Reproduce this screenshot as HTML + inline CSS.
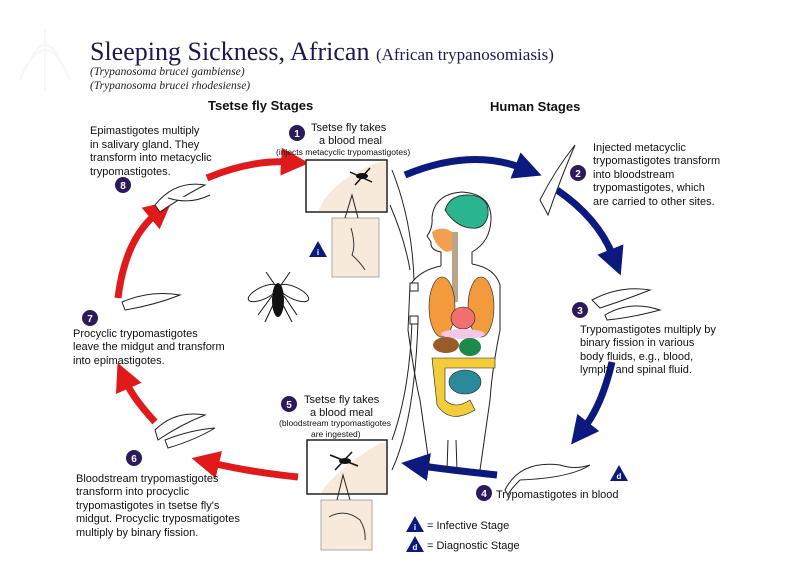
<!DOCTYPE html>
<html><head><meta charset="utf-8"><style>
html,body{margin:0;padding:0;background:#fff}
svg{display:block}
text{font-family:"Liberation Sans",sans-serif;fill:#111}
.s{font-size:11px}
.xs{font-size:8.5px}
.n{font-size:10px;font-weight:bold;fill:#fff}
</style></head><body>
<svg width="800" height="587" viewBox="0 0 800 587" xmlns="http://www.w3.org/2000/svg">
<defs>
<marker id="rh" markerWidth="4" markerHeight="4" refX="1" refY="2" orient="auto"><path d="M0,0 L4,2 L0,4 Z" fill="#e01a1a"/></marker>
<marker id="bh" markerWidth="4" markerHeight="4" refX="1" refY="2" orient="auto"><path d="M0,0 L4,2 L0,4 Z" fill="#0c1a80"/></marker>
</defs>
<!-- watermark -->
<g stroke="#f6f6f6" fill="none" stroke-width="2"><path d="M20,80 Q45,20 70,80 M30,60 Q45,30 60,60 M45,30 L45,90"/></g>
<!-- title -->
<text x="90" y="60" style="font-family:'Liberation Serif',serif;font-size:26px;fill:#1a1a50">Sleeping Sickness, African <tspan style="font-size:17px">(African trypanosomiasis)</tspan></text>
<text x="90" y="75" style="font-family:'Liberation Serif',serif;font-size:11.5px;font-style:italic;fill:#222">(Trypanosoma brucei gambiense)</text>
<text x="90" y="89" style="font-family:'Liberation Serif',serif;font-size:11.5px;font-style:italic;fill:#222">(Trypanosoma brucei rhodesiense)</text>
<text x="208" y="110" style="font-size:13px;font-weight:bold">Tsetse fly Stages</text>
<text x="490" y="111" style="font-size:13px;font-weight:bold">Human Stages</text>

<!-- red arrows -->
<g stroke="#e01a1a" stroke-width="7" fill="none">
<path d="M207,178 Q250,160 288,162" marker-end="url(#rh)"/>
<path d="M118,298 Q125,240 156,214" marker-end="url(#rh)"/>
<path d="M155,422 Q133,398 126,382" marker-end="url(#rh)"/>
<path d="M298,477 Q250,472 212,463" marker-end="url(#rh)"/>
</g>
<!-- blue arrows -->
<g stroke="#0c1a80" stroke-width="7" fill="none">
<path d="M405,175 Q470,148 522,168" marker-end="url(#bh)"/>
<path d="M557,190 Q598,218 613,256" marker-end="url(#bh)"/>
<path d="M612,362 Q602,405 584,428" marker-end="url(#bh)"/>
<path d="M497,475 Q450,470 422,466" marker-end="url(#bh)"/>
</g>

<!-- number circles -->
<g fill="#2c1a5c">
<circle cx="297" cy="133" r="8"/><circle cx="578" cy="173" r="8"/><circle cx="580" cy="310" r="8"/>
<circle cx="484" cy="493" r="8"/><circle cx="289" cy="404" r="8"/><circle cx="134" cy="458" r="8"/>
<circle cx="90" cy="318" r="8"/><circle cx="123" cy="185" r="8"/>
</g>
<g text-anchor="middle">
<text class="n" x="297" y="137">1</text><text class="n" x="578" y="177">2</text><text class="n" x="580" y="314">3</text>
<text class="n" x="484" y="497">4</text><text class="n" x="289" y="408">5</text><text class="n" x="134" y="462">6</text>
<text class="n" x="90" y="322">7</text><text class="n" x="123" y="189">8</text>
</g>

<!-- texts -->
<text class="s" x="90" y="134">Epimastigotes multiply</text>
<text class="s" x="90" y="148">in salivary gland. They</text>
<text class="s" x="90" y="161">transform into metacyclic</text>
<text class="s" x="90" y="175">trypomastigotes.</text>
<text class="s" x="311" y="131">Tsetse fly takes</text>
<text class="s" x="319" y="144">a blood meal</text>
<text class="xs" x="276" y="155">(injects metacyclic trypomastigotes)</text>
<text class="s" x="593" y="151">Injected metacyclic</text>
<text class="s" x="593" y="164">trypomastigotes transform</text>
<text class="s" x="593" y="178">into bloodstream</text>
<text class="s" x="593" y="191">trypomastigotes, which</text>
<text class="s" x="593" y="205">are carried to other sites.</text>
<text class="s" x="580" y="333">Trypomastigotes multiply by</text>
<text class="s" x="580" y="346">binary fission in various</text>
<text class="s" x="580" y="360">body fluids, e.g., blood,</text>
<text class="s" x="580" y="373">lymph, and spinal fluid.</text>
<text class="s" x="496" y="498">Trypomastigotes in blood</text>
<text class="s" x="304" y="403">Tsetse fly takes</text>
<text class="s" x="310" y="416">a blood meal</text>
<text class="xs" x="279" y="426">(bloodstream trypomastigotes</text>
<text class="xs" x="311" y="437">are ingested)</text>
<text class="s" x="73" y="337">Procyclic trypomastigotes</text>
<text class="s" x="73" y="350">leave the midgut and transform</text>
<text class="s" x="73" y="364">into epimastigotes.</text>
<text class="s" x="76" y="482">Bloodstream trypomastigotes</text>
<text class="s" x="76" y="495">transform into procyclic</text>
<text class="s" x="76" y="509">trypomastigotes in tsetse fly's</text>
<text class="s" x="76" y="522">midgut. Procyclic tryposmatigotes</text>
<text class="s" x="76" y="536">multiply by binary fission.</text>

<!-- legend -->
<g fill="#0c1a80">
<path d="M406,532 L415,516 L424,532 Z"/><path d="M406,552 L415,536 L424,552 Z"/>
<path d="M309,257 L318,241 L327,257 Z"/><path d="M610,481 L619,465 L628,481 Z"/>
</g>
<g font-weight="bold" text-anchor="middle">
<text x="415" y="530" style="fill:#fff;font-size:8px">i</text><text x="415" y="550" style="fill:#fff;font-size:8px">d</text>
<text x="318" y="255" style="fill:#fff;font-size:8px">i</text><text x="619" y="479" style="fill:#fff;font-size:8px">d</text>
</g>
<text class="s" x="427" y="529">= Infective Stage</text>
<text class="s" x="427" y="549">= Diagnostic Stage</text>

<!-- boxes -->
<rect x="332" y="218" width="47" height="59" fill="#f8eadb" stroke="#999" stroke-width="0.8"/>
<rect x="306" y="160" width="81" height="52" fill="#fff" stroke="#222" stroke-width="1.3"/>
<path d="M318,212 Q330,180 380,162 L386,162 L386,211 L318,211 Z" fill="#f8eadb"/>
<rect x="306" y="160" width="81" height="52" fill="none" stroke="#222" stroke-width="1.3"/>
<path d="M345,218 L352,195 L358,218" fill="none" stroke="#222"/>
<path d="M351,228 Q356,245 352,255 Q360,262 365,270" fill="none" stroke="#333"/>
<g stroke="#111" stroke-width="1.5"><line x1="350" y1="172" x2="372" y2="182"/><line x1="355" y1="185" x2="370" y2="168"/></g>
<ellipse cx="362" cy="176" rx="6" ry="3" fill="#111"/>

<rect x="321" y="500" width="51" height="50" fill="#f8eadb" stroke="#999" stroke-width="0.8"/>
<rect x="307" y="440" width="80" height="54" fill="#fff" stroke="#222" stroke-width="1.3"/>
<path d="M320,494 Q335,470 380,443 L386,443 L386,493 L320,493 Z" fill="#f8eadb"/>
<rect x="307" y="440" width="80" height="54" fill="none" stroke="#222" stroke-width="1.3"/>
<path d="M337,500 L343,475 L350,500" fill="none" stroke="#222"/>
<path d="M329,517 Q345,508 360,520 Q366,530 365,540" fill="none" stroke="#333"/>
<g stroke="#111" stroke-width="1.5"><line x1="330" y1="455" x2="358" y2="466"/><line x1="335" y1="470" x2="352" y2="452"/></g>
<ellipse cx="345" cy="461" rx="6" ry="3" fill="#111"/>

<!-- connector lines -->
<g fill="none" stroke="#222" stroke-width="1">
<path d="M392,170 Q412,220 414,280"/><path d="M390,205 Q405,240 410,270"/>
<path d="M392,440 Q410,390 412,320"/><path d="M392,470 Q415,420 418,320"/>
</g>

<!-- human body -->
<g fill="none" stroke="#222" stroke-width="1">
<path d="M441,266 L441,252 Q430,250 431,242 L427,236 Q433,228 432,218 Q434,194 462,192 Q492,194 491,220 Q490,242 472,252 L472,264"/>
<path d="M441,266 Q420,270 410,285 L408,330 Q415,380 420,400 L430,470"/>
<path d="M472,264 Q495,268 500,285 L500,330 Q492,370 490,400 L480,470"/>
<path d="M448,440 L447,470 M456,440 L457,470"/>
</g>
<rect x="410" y="283" width="8" height="8" fill="#fff" stroke="#222"/>
<rect x="410" y="316" width="8" height="8" fill="#fff" stroke="#222"/>
<path d="M445,210 Q450,194 470,195 Q490,197 488,215 Q485,230 470,228 Q455,226 445,210Z" fill="#2bb58e" stroke="#222" stroke-width="0.8"/>
<path d="M432,232 Q442,225 452,232 L455,250 L446,252 Q434,245 432,232Z" fill="#f2a050"/>
<rect x="452" y="232" width="6" height="70" fill="#b9a58a"/>
<ellipse cx="442" cy="307" rx="13" ry="30" fill="#f29a3c" stroke="#222" stroke-width="0.6"/>
<ellipse cx="481" cy="307" rx="13" ry="30" fill="#f29a3c" stroke="#222" stroke-width="0.6"/>
<ellipse cx="463" cy="318" rx="12" ry="11" fill="#f07070" stroke="#222" stroke-width="0.6"/>
<ellipse cx="463" cy="334" rx="22" ry="5" fill="#f2c8e6"/>
<ellipse cx="446" cy="345" rx="13" ry="8" fill="#9a5a2a"/>
<ellipse cx="470" cy="347" rx="11" ry="9" fill="#1d8a4a"/>
<path d="M432,358 L495,358 L495,368 L445,368 L445,400 Q455,410 470,400 L475,410 Q450,425 437,405 Z" fill="#f2cc3a" stroke="#222" stroke-width="0.6"/>
<ellipse cx="465" cy="382" rx="16" ry="12" fill="#2a8a9a" stroke="#222" stroke-width="0.6"/>

<!-- tsetse fly -->
<g>
<ellipse cx="263" cy="293" rx="16" ry="6" fill="#fff" stroke="#222" transform="rotate(-25 263 293)"/>
<ellipse cx="294" cy="293" rx="16" ry="6" fill="#fff" stroke="#222" transform="rotate(25 294 293)"/>
<ellipse cx="278" cy="300" rx="6" ry="17" fill="#111"/>
<g stroke="#111"><path d="M272,296 L258,315 M284,296 L297,315 M273,305 L265,322 M283,305 L292,322 M275,285 L266,272 M281,285 L290,272"/></g>
</g>

<!-- trypanosomes -->
<g fill="#fff" stroke="#222" stroke-width="1">
<path d="M155,205 Q175,180 205,185 Q185,195 160,212 Z"/>
<path d="M168,198 Q190,205 210,195"/>
<path d="M540,200 Q555,170 575,145 Q560,180 548,215 Z"/>
<path d="M592,300 Q620,285 650,290 Q625,300 600,308 Z"/>
<path d="M605,315 Q630,300 660,310 Q630,318 607,320 Z"/>
<path d="M505,490 Q520,460 560,465 Q575,470 590,465 Q570,478 520,480 Q510,490 508,495 Z"/>
<path d="M122,302 Q150,290 180,295 Q155,305 125,310 Z"/>
<path d="M155,430 Q175,410 205,415 Q180,425 158,440 Z"/>
<path d="M165,440 Q190,430 215,428 Q195,440 168,448 Z"/>
</g>
</svg>
</body></html>
